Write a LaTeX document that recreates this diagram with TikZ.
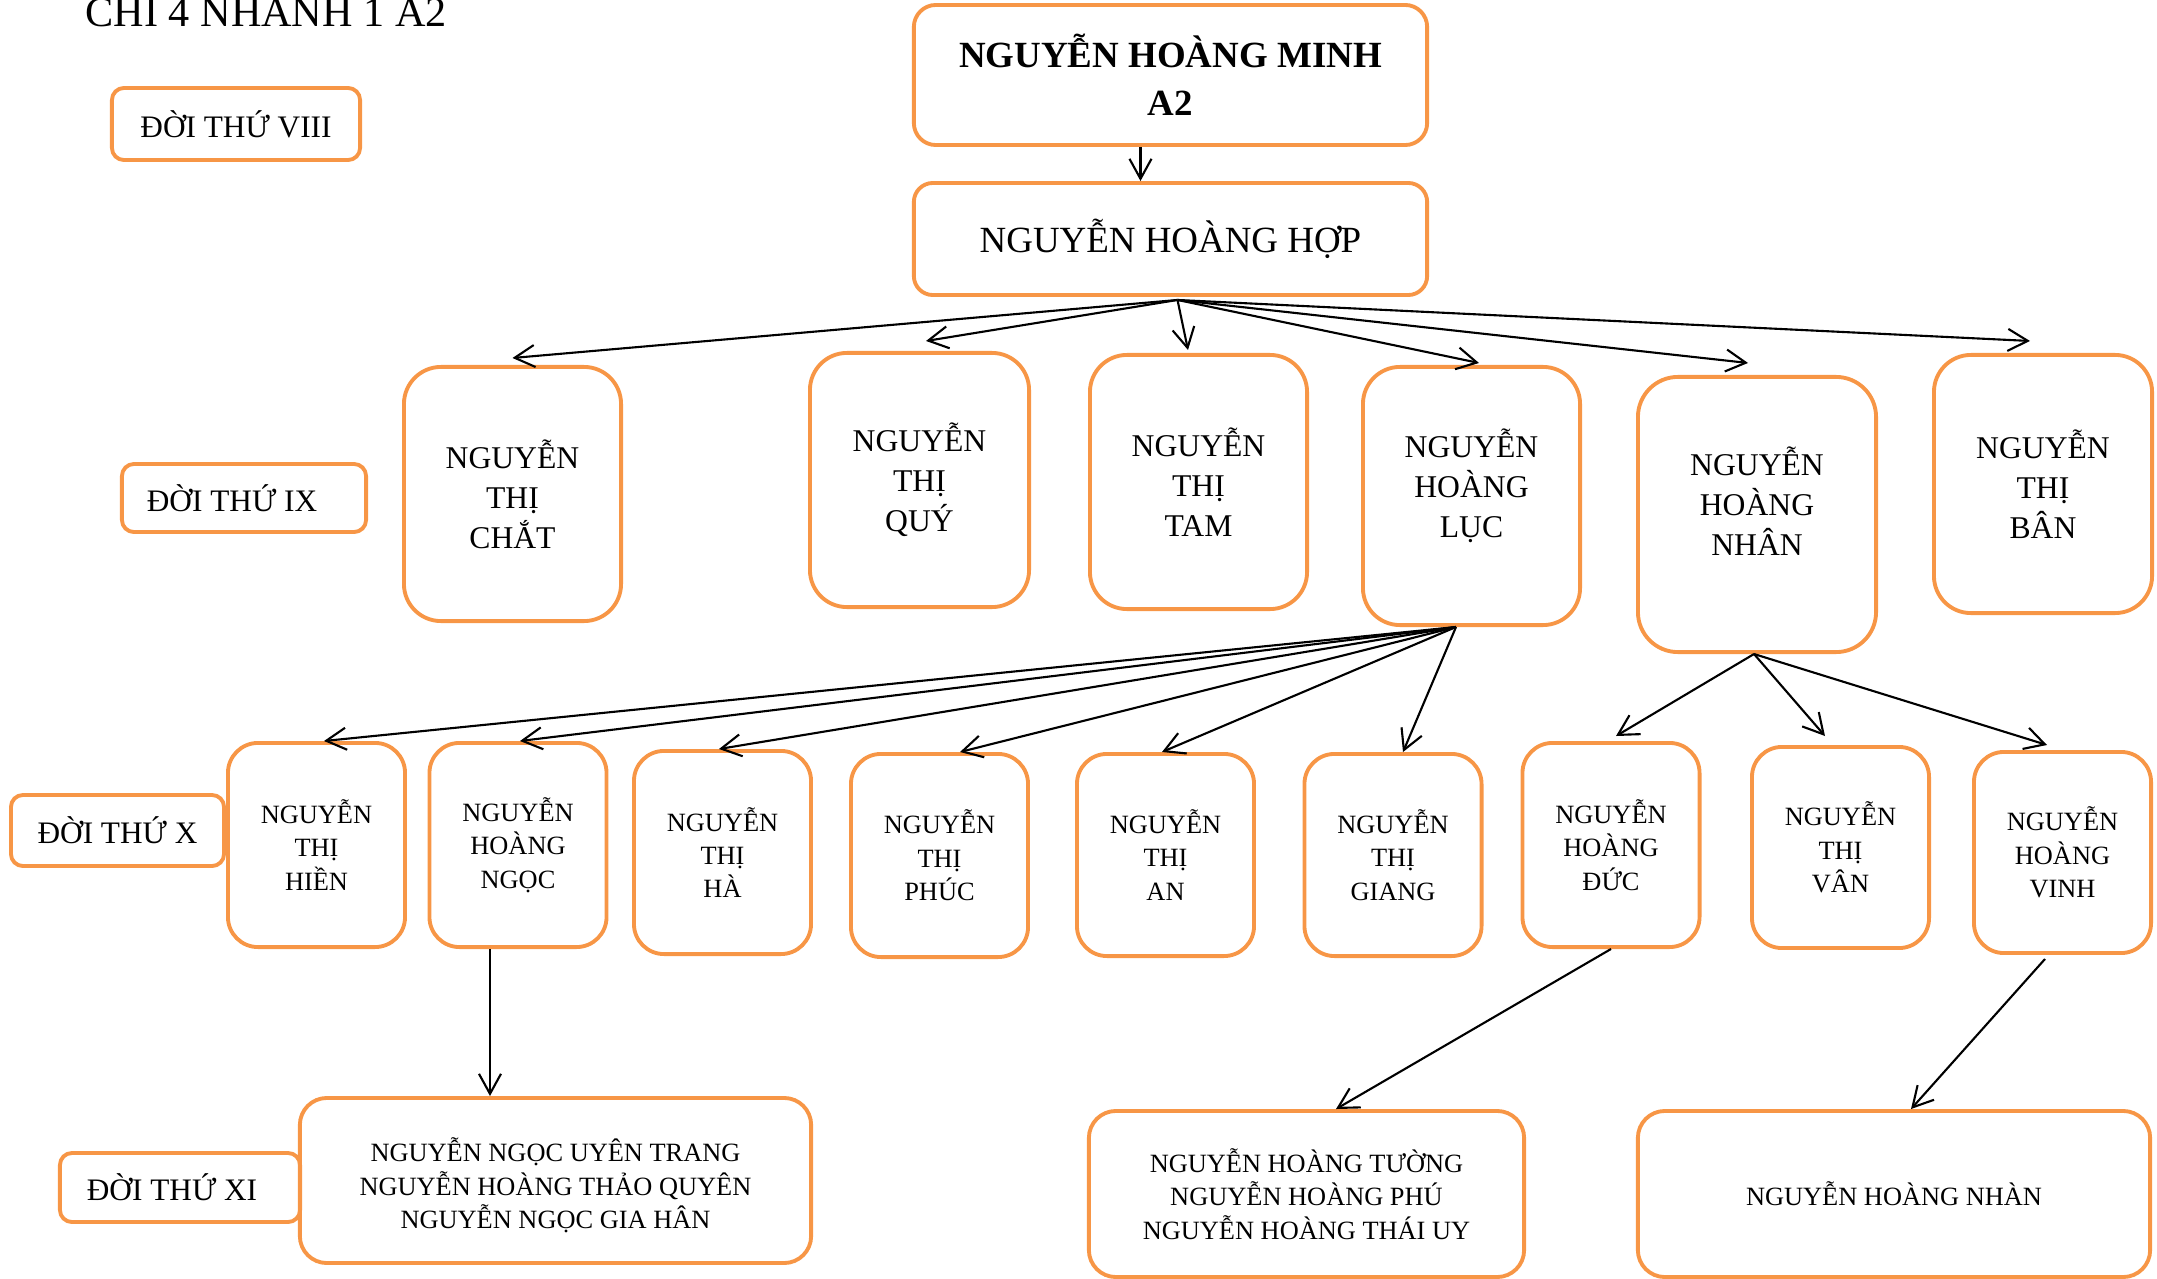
\documentclass[tikz,border=0pt]{standalone}
\usepackage{fontspec}
\setmainfont{Liberation Serif}
\usetikzlibrary{arrows.meta}
\definecolor{boxorange}{HTML}{F79646}
\begin{document}
\begin{tikzpicture}[x=0.01cm,y=-0.01cm,
  box/.style={draw=boxorange,line width=1.1pt,align=center,inner sep=0pt},
  genlabel/.style={box,rounded corners=0.12cm,font=\fontsize{8.9}{10.5}\selectfont},
  headbox/.style={box,rounded corners=0.22cm,font=\fontsize{10.5}{13.7}\selectfont},
  elder/.style={box,rounded corners=0.37cm,minimum width=2.17cm,font=\fontsize{9}{11.4}\selectfont},
  child/.style={box,rounded corners=0.3cm,minimum width=1.77cm,font=\fontsize{7.5}{9.5}\selectfont},
  family/.style={box,rounded corners=0.27cm,font=\fontsize{7.5}{9.5}\selectfont},
  arr/.style={-{Straight Barb[length=2mm,width=2.2mm]},line width=0.6pt}]
\useasboundingbox (0,0) rectangle (2157,1279);
\node[anchor=base west,font=\fontsize{12}{14}\selectfont,inner sep=0pt] (title) at (85,27) {CHI 4 NHÁNH 1 A2};
\node[genlabel,minimum width=2.48cm,minimum height=0.72cm] (g8) at (236,124) {ĐỜI THỨ VIII};
\node[genlabel,minimum width=2.44cm,minimum height=0.68cm] (g9) at (244,498) {ĐỜI THỨ IX\kern0.24cm};
\node[genlabel,minimum width=2.13cm,minimum height=0.71cm] (g10) at (117.5,830.5) {ĐỜI THỨ X};
\node[genlabel,minimum width=2.40cm,minimum height=0.69cm] (g11) at (180,1187.5) {ĐỜI THỨ XI\kern0.16cm};
\node[headbox,minimum width=5.13cm,minimum height=1.40cm,font=\bfseries\fontsize{10.5}{13.7}\selectfont] (minh) at (1170.5,75) {NGUYỄN HOÀNG MINH\\A2};
\node[headbox,minimum width=5.13cm,minimum height=1.12cm,rounded corners=0.19cm] (hop) at (1170.5,239) {NGUYỄN HOÀNG HỢP};
\node[elder,minimum height=2.54cm] (chat) at (512.5,494) {NGUYỄN\\THỊ\\CHẮT};
\node[elder,minimum width=2.19cm,minimum height=2.54cm] (quy) at (919.5,480) {NGUYỄN\\THỊ\\QUÝ};
\node[elder,minimum height=2.54cm] (tam) at (1198.5,482) {NGUYỄN\\THỊ\\TAM};
\node[elder,minimum height=2.58cm] (luc) at (1471.5,496) {NGUYỄN\\HOÀNG\\LỤC\rule[-0.25cm]{0pt}{0pt}};
\node[elder,minimum width=2.38cm,minimum height=2.75cm,rounded corners=0.4cm] (nhan) at (1757,514.5) {NGUYỄN\\HOÀNG\\NHÂN\rule[-0.26cm]{0pt}{0pt}};
\node[elder,minimum width=2.18cm,minimum height=2.58cm] (ban) at (2043,484) {NGUYỄN\\THỊ\\BÂN};
\node[child,minimum height=2.04cm] (hien) at (316.5,845) {NGUYỄN\\THỊ\\HIỀN};
\node[child,minimum height=2.04cm] (ngoc) at (518,845) {NGUYỄN\\HOÀNG\\NGỌC};
\node[child,minimum height=2.03cm] (ha) at (722.5,852.5) {NGUYỄN\\THỊ\\HÀ};
\node[child,minimum height=2.03cm] (phuc) at (939.5,855.5) {NGUYỄN\\THỊ\\PHÚC};
\node[child,minimum height=2.02cm] (an) at (1165.5,855) {NGUYỄN\\THỊ\\AN};
\node[child,minimum height=2.02cm] (giang) at (1393,855) {NGUYỄN\\THỊ\\GIANG};
\node[child,minimum height=2.04cm] (duc) at (1611,845) {NGUYỄN\\HOÀNG\\ĐỨC};
\node[child,minimum height=2.01cm] (van) at (1840.5,847.5) {NGUYỄN\\THỊ\\VÂN};
\node[child,minimum height=2.01cm] (vinh) at (2062.5,852.5) {NGUYỄN\\HOÀNG\\VINH};
\node[family,minimum width=5.11cm,minimum height=1.65cm] (ngocch) at (555.5,1180.5) {\rule{0pt}{0.34cm}NGUYỄN NGỌC UYÊN TRANG\\NGUYỄN HOÀNG THẢO QUYÊN\\NGUYỄN NGỌC GIA HÂN};
\node[family,minimum width=4.35cm,minimum height=1.66cm] (ducch) at (1306.5,1194) {NGUYỄN HOÀNG TƯỜNG\\NGUYỄN HOÀNG PHÚ\\NGUYỄN HOÀNG THÁI UY};
\node[family,minimum width=5.12cm,minimum height=1.66cm] (vinhch) at (1894,1194) {NGUYỄN HOÀNG NHÀN};
\coordinate (hopfoot) at ([xshift=0.07cm,yshift=-0.03cm]hop.south);
\coordinate (lucfoot) at ([xshift=-0.155cm]luc.south);
\coordinate (nhanfoot) at ([xshift=-0.03cm]nhan.south);
\coordinate (ngocfoot) at ([xshift=-0.28cm]ngoc.south);
\coordinate (vinhfoot) at ([xshift=-0.175cm,yshift=-0.04cm]vinh.south);
\draw[arr] ([xshift=-0.3cm]minh.south) -- ([xshift=-0.3cm]hop.north);
\draw[arr] (hopfoot) -- ([yshift=0.07cm]chat.north);
\draw[arr] (hopfoot) -- ([xshift=0.065cm,yshift=0.1cm]quy.north);
\draw[arr] (hopfoot) -- ([xshift=-0.105cm,yshift=0.03cm]tam.north);
\draw[arr] (hopfoot) -- ([xshift=0.075cm,yshift=0.02cm]luc.north);
\draw[arr] (hopfoot) -- ([xshift=-0.09cm,yshift=0.12cm]nhan.north);
\draw[arr] (hopfoot) -- ([xshift=-0.13cm,yshift=0.12cm]ban.north);
\draw[arr] (lucfoot) -- ([xshift=0.075cm]hien.north);
\draw[arr] (lucfoot) -- ([xshift=0.02cm]ngoc.north);
\draw[arr] (lucfoot) -- ([xshift=-0.035cm]ha.north);
\draw[arr] (lucfoot) -- ([xshift=0.205cm]phuc.north);
\draw[arr] (lucfoot) -- ([xshift=-0.035cm]an.north);
\draw[arr] (lucfoot) -- ([xshift=0.1cm]giang.north);
\draw[arr] (nhanfoot) -- ([xshift=0.05cm,yshift=0.05cm]duc.north);
\draw[arr] (nhanfoot) -- ([xshift=-0.155cm,yshift=0.09cm]van.north);
\draw[arr] (nhanfoot) -- ([xshift=-0.155cm,yshift=0.05cm]vinh.north);
\draw[arr] (ngocfoot) -- (ngocfoot |- ngocch.north);
\draw[arr] (duc.south) -- ([xshift=0.295cm]ducch.north);
\draw[arr] (vinhfoot) -- ([xshift=0.17cm]vinhch.north);
\end{tikzpicture}
\end{document}
